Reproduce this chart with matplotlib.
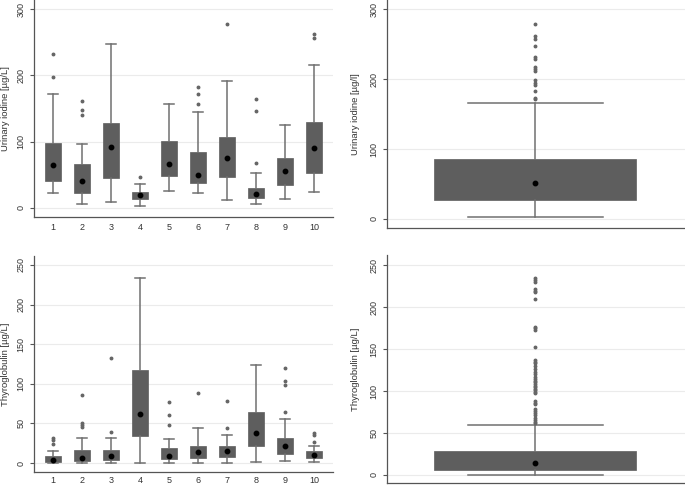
import matplotlib
matplotlib.use('Agg')
import matplotlib.pyplot as plt

plt.rcParams['font.family'] = ['Liberation Sans', 'DejaVu Sans']

groups = [1, 2, 3, 4, 5, 6, 7, 8, 9, 10]

# Urinary iodine by group
ui_low = [22, 6.5, 9, 3.5, 26, 22, 12, 5.5, 13, 23.5]
ui_q1 = [41, 22, 45, 14, 48, 38, 46, 14.5, 35, 53]
ui_med = [65, 40, 92.5, 19, 67, 49, 76, 21, 56, 91]
ui_q3 = [98.5, 66, 128, 24, 101, 84, 107.5, 30, 75, 130]
ui_high = [172, 96, 247, 36, 157, 145, 192, 53, 125, 216]
ui_out = [[232, 197], [161, 148, 140], [], [47], [], [182, 172, 157],
          [278], [164, 146, 68], [], [262, 256]]

# Thyroglobulin by group
tg_low = [0, 0, 0, 0, 0, 0, 0, 1, 3, 1.7]
tg_q1 = [1, 3, 3.4, 34.5, 4.6, 6.7, 8, 21, 12, 6]
tg_med = [3.4, 6, 9, 62, 9, 14, 14.7, 38, 22, 10]
tg_q3 = [9, 16.4, 17, 117, 19, 22, 21, 64, 31, 14.7]
tg_high = [15.5, 32, 31.5, 234, 30, 43.7, 35, 124, 55.5, 21.4]
tg_out = [[32, 29, 24], [86, 51, 48, 45], [132, 38.7], [], [76.5, 61, 48],
          [88.6], [78, 44], [], [120, 104, 98, 65], [38, 35, 27]]

# Urinary iodine, all subjects
ui_all = [3.3, 27, 51.4, 85.7, 166]
ui_all_out = [278.6, 262, 257, 247, 231, 229, 217.6, 214, 211, 198.6, 195,
              192, 183, 173, 171]

# Thyroglobulin, all subjects
tg_all = [0, 5.5, 13.9, 28.5, 60]
tg_all_out = [234.5, 232, 230.6, 221.5, 219, 218, 210, 176.7, 175, 173, 152,
              137, 135, 133.5, 129.6, 126, 123, 120.5, 117, 114.5, 112, 110.5,
              108, 106, 104.6, 103, 101.4, 99, 97.5, 88, 86, 85, 79, 76, 73.7,
              71, 68, 65, 63, 62]

BOX = '#5e5e5e'
LINE = '#707070'


def make_stats(low, q1, med, q3, high, out):
    return [dict(whislo=a, q1=b, med=c, q3=d, whishi=e, fliers=f)
            for a, b, c, d, e, f in zip(low, q1, med, q3, high, out)]


def draw(ax, stats, pos, width, capw, meds):
    ax.bxp(stats, positions=pos, widths=width, patch_artist=True,
           capwidths=capw, showfliers=True,
           boxprops=dict(facecolor=BOX, edgecolor=BOX, linewidth=0.5),
           whiskerprops=dict(color=LINE, linewidth=1.1),
           capprops=dict(color=LINE, linewidth=1.1),
           medianprops=dict(linewidth=0),
           flierprops=dict(marker='o', markersize=1.8, markerfacecolor='#666666',
                           markeredgecolor='#666666', linestyle='none'))
    ax.plot(pos, meds, 'o', color='black', markersize=3.2, zorder=5)


def style(ax, yticks, ylim, xlim, label):
    ax.set_ylim(*ylim)
    ax.set_xlim(*xlim)
    ax.set_yticks(yticks)
    ax.set_yticklabels([str(t) for t in yticks], rotation=90, va='center')
    ax.yaxis.grid(True, color='#ebebeb', linewidth=0.8)
    ax.set_axisbelow(True)
    for s in ['top', 'right']:
        ax.spines[s].set_visible(False)
    for s in ['left', 'bottom']:
        ax.spines[s].set_color('#555555')
        ax.spines[s].set_linewidth(0.9)
    ax.tick_params(axis='y', length=3, width=0.8, color='#555555',
                   labelsize=6.5, labelcolor='#333333', pad=3)
    ax.set_ylabel(label, fontsize=6.8, color='#333333', labelpad=5)


fig = plt.figure(figsize=(6.85, 4.86), dpi=100)

ax1 = fig.add_axes([34 / 685, 1 - 217 / 486, 299 / 685, 217 / 486])
draw(ax1, make_stats(ui_low, ui_q1, ui_med, ui_q3, ui_high, ui_out),
     groups, 0.52, 0.33, ui_med)
style(ax1, [0, 100, 200, 300], (-13.6, 313.6), (0.345, 10.655),
      'Urinary iodine [µg/L]')
ax1.set_xticks(groups)
ax1.set_xticklabels([str(g) for g in groups])
ax1.tick_params(axis='x', length=0, labelsize=6.5, labelcolor='#333333', pad=4)

ax2 = fig.add_axes([34 / 685, 1 - 472.3 / 486, 299 / 685, 216.3 / 486])
draw(ax2, make_stats(tg_low, tg_q1, tg_med, tg_q3, tg_high, tg_out),
     groups, 0.52, 0.33, tg_med)
style(ax2, [0, 50, 100, 150, 200, 250], (-11.7, 261.3), (0.345, 10.655),
      'Thyroglobulin [µg/L]')
ax2.set_xticks(groups)
ax2.set_xticklabels([str(g) for g in groups])
ax2.tick_params(axis='x', length=0, labelsize=6.5, labelcolor='#333333', pad=2.5)

ax3 = fig.add_axes([387 / 685, 1 - 228.3 / 486, 298 / 685, 228.3 / 486])
draw(ax3, make_stats([ui_all[0]], [ui_all[1]], [ui_all[2]], [ui_all[3]],
                     [ui_all[4]], [ui_all_out]),
     [1], 0.678, 0.453, [ui_all[2]])
style(ax3, [0, 100, 200, 300], (-13.3, 312.9), (1 - 0.4977, 1 + 0.5023),
      'Urinary iodine [µg/l]')
ax3.set_xticks([])
ax3.yaxis.labelpad = 7

ax4 = fig.add_axes([387 / 685, 1 - 483.3 / 486, 298 / 685, 228.3 / 486])
draw(ax4, make_stats([tg_all[0]], [tg_all[1]], [tg_all[2]], [tg_all[3]],
                     [tg_all[4]], [tg_all_out]),
     [1], 0.678, 0.453, [tg_all[2]])
style(ax4, [0, 50, 100, 150, 200, 250], (-10.1, 262.3), (1 - 0.4977, 1 + 0.5023),
      'Thyroglobulin [µg/L]')
ax4.set_xticks([])
ax4.yaxis.labelpad = 7

fig.savefig('out.png', dpi=100)
